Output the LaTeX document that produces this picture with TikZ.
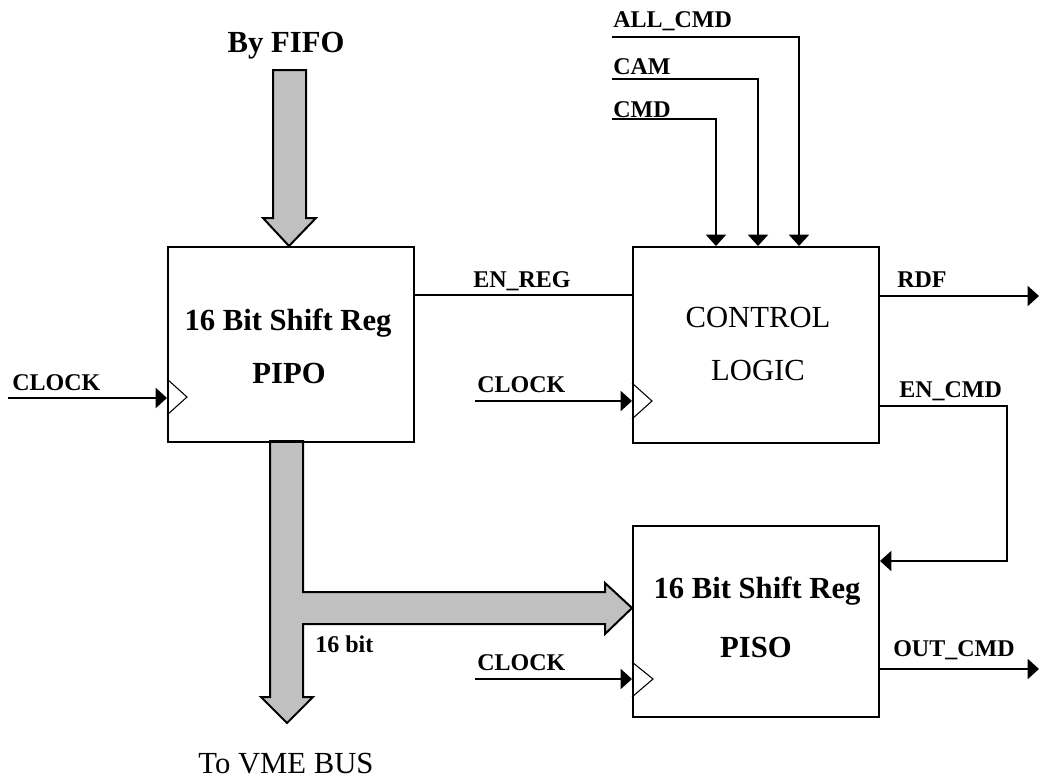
\documentclass[tikz,border=0pt]{standalone}
\usepackage{fontspec}
\setmainfont{Liberation Serif}
\usetikzlibrary{arrows.meta,positioning,calc}

\tikzset{
  blk/.style={draw, line width=1.5, anchor=north west, inner sep=0pt, minimum width=184.5pt},
  wire/.style={line width=1.5},
  sig/.style={line width=1.5, -{Triangle[length=8.5pt,width=15pt]}},
  clk/.style={line width=0.8},
  bus/.style={draw, line width=1.5, fill={rgb,255:red,192;green,192;blue,192}},
  lbl/.style={font=\fontsize{18}{20}\selectfont\bfseries, anchor=base west, inner sep=0pt},
  title/.style={font=\fontsize{23}{26}\selectfont\bfseries, anchor=base, inner sep=0pt},
  plain/.style={font=\fontsize{23}{26}\selectfont, anchor=base, inner sep=0pt},
}

\begin{document}
\begin{tikzpicture}[x=0.75pt,y=0.75pt,yscale=-1,xscale=1]
\useasboundingbox (0,0) rectangle (1040,778);

%Bus arrow in from FIFO
\draw [bus] (273,70) -- (306,70) -- (306,218) -- (316,218) -- (289,246) -- (263,218) -- (273,218) -- cycle ;
%Bus arrow out, branching to PISO
\draw [bus] (270,441) -- (303,441) -- (303,592) -- (605,592) -- (605,583) -- (632,608) -- (605,634) -- (605,624) -- (303,624) -- (303,697) -- (313,697) -- (287,723) -- (261,697) -- (270,697) -- cycle ;

%Blocks
\node [blk, minimum height=146.25pt] (pipo) at (167,246) {};
\node [blk, minimum height=147pt] (ctrl) at (632,246) {};
\node [blk, minimum height=143.25pt] (piso) at (632,525) {};

%Clock marks
\draw [clk] (167,379) -- (187,397) -- (167,415) ;
\draw [clk] (632,383) -- (652,401) -- (632,419) ;
\draw [clk] (632,662) -- (653,679) -- (632,697) ;

%Free ends of the wires
\coordinate (clkA) at (8,398);
\coordinate (clkB) at (475,401);
\coordinate (clkC) at (475,679);
\coordinate (allcmd) at (612,37);
\coordinate (cam) at (612,79);
\coordinate (cmd) at (612,119);
\coordinate (rdf) at (1039,296);
\coordinate (outcmd) at (1039,669);

%Wires
\draw [sig] (clkA) -- (clkA -| pipo.west) ;
\draw [sig] (clkB) -- (clkB -| ctrl.west) ;
\draw [sig] (clkC) -- (clkC -| piso.west) ;
\draw [wire] (pipo.east |- 0,295) -- (ctrl.west |- 0,295) ;
\draw [sig] (cmd) -| (ctrl.north -| 716,0) ;
\draw [sig] (cam) -| (ctrl.north -| 758,0) ;
\draw [sig] (allcmd) -| (ctrl.north -| 799,0) ;
\draw [sig] (rdf -| ctrl.east) -- (rdf) ;
\draw [sig] (ctrl.east |- 0,406) -| (1007,561) -- (piso.east |- 0,561) ;
\draw [sig] (outcmd -| piso.east) -- (outcmd) ;

% Text Node
\node [title] (fifo) at (286,52) {By FIFO};
\node [plain] (vme) at (286,773) {To VME BUS};
\node [lbl] (bits) at (315,652) {16 bit};
\node [title] (pipoA) at (288,330) {16 Bit Shift Reg};
\node [title] (pipoB) at (289,383) {PIPO};
\node [plain] (ctrlA) at (758,327) {CONTROL};
\node [plain] (ctrlB) at (758,380) {LOGIC};
\node [title] (pisoA) at (757,598) {16 Bit Shift Reg};
\node [title] (pisoB) at (756,657) {PISO};
\node [lbl] (lclkA) at (12,390) {CLOCK};
\node [lbl] (lclkB) at (477,392) {CLOCK};
\node [lbl] (lclkC) at (477,670) {CLOCK};
\node [lbl] (lenreg) at (473,287) {EN\_REG};
\node [lbl] (lall) at (613,27) {ALL\_CMD};
\node [lbl] (lcam) at (613,74) {CAM};
\node [lbl] (lcmd) at (613,117) {CMD};
\node [lbl] (lrdf) at (897,287) {RDF};
\node [lbl] (lencmd) at (899,397) {EN\_CMD};
\node [lbl] (lout) at (893,656) {OUT\_CMD};

\end{tikzpicture}
\end{document}
